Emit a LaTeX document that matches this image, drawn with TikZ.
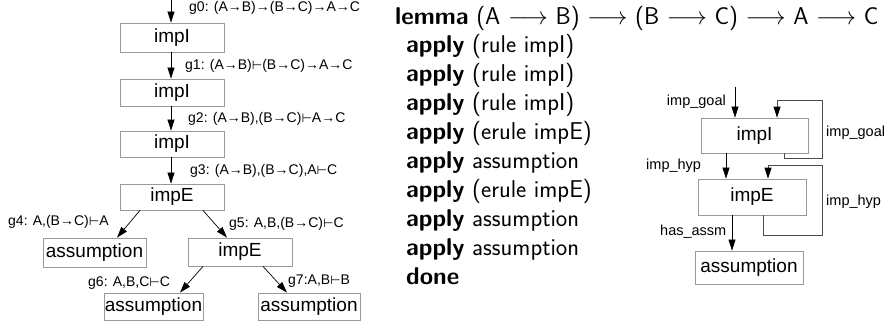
\documentclass[tikz,border=0pt]{standalone}
\usepackage{fontspec}
\setmainfont{Liberation Sans}
\newfontfamily\djv{DejaVu Sans}
\usetikzlibrary{arrows.meta,calc}
\newcommand{\ar}{→}
\newcommand{\ts}{{\djv\fontsize{12}{12}\selectfont ⊢}}
\begin{document}
\begin{tikzpicture}[x=1pt,y=-1pt,
  box/.style={draw=black!40,line width=0.8pt,inner sep=0pt,font=\fontsize{19}{19}\selectfont},
  arr/.style={-{Triangle[length=11pt,width=7pt]},line width=0.7pt,black},
  loopline/.style={-{Triangle[length=11pt,width=7pt,black]},line width=0.9pt,black!70},
  glab/.style={anchor=west,inner sep=0pt,font=\fontsize{14}{14}\selectfont},
  rlab/.style={inner sep=0pt,font=\fontsize{14.5}{14.5}\selectfont},
  isa/.style={anchor=base west,inner sep=0pt,font=\sffamily\fontsize{24.3}{24.3}\selectfont}]
\useasboundingbox (0,0) rectangle (894,324);
% ---------- left tree ----------
\node[box,minimum width=104pt,minimum height=29pt] (b1) at (172,37.5) {impI};
\node[box,minimum width=104pt,minimum height=27pt] (b2) at (172,92.5) {impI};
\node[box,minimum width=104pt,minimum height=26pt] (b3) at (172,144) {impI};
\node[box,minimum width=104pt,minimum height=26pt] (b4) at (172,197) {impE};
\node[box,minimum width=103pt,minimum height=29pt] (a1) at (94.5,252.5) {assumption};
\node[box,minimum width=104pt,minimum height=28pt] (b5) at (240,252) {impE};
\node[box,minimum width=99pt,minimum height=27pt] (a2) at (153.5,306.5) {assumption};
\node[box,minimum width=102pt,minimum height=27pt] (a3) at (309,306.5) {assumption};
\coordinate (top) at (171,0);
\draw[arr] (top) -- (top |- b1.north);
\draw[arr] (b1.south -| top) -- (b2.north -| top);
\draw[arr] (b2.south -| top) -- (b3.north -| top);
\draw[arr] (b3.south -| top) -- (b4.north -| top);
\draw[arr] ($(b4.south)+(-32,0)$) -- ($(a1.north)+(22.5,0)$);
\draw[arr] ($(b4.south)+(31,0)$) -- ($(b5.north)+(-13,0)$);
\draw[arr] ($(b5.south)+(-37,0)$) -- ($(a2.north)+(26.5,0)$);
\draw[arr] ($(b5.south)+(23,0)$) -- ($(a3.north)+(-22,0)$);
\node[glab] (g0) at (189,7.5) {g0: (A\ar B)\ar(B\ar C)\ar A\ar C};
\node[glab] (g1) at (185,66) {g1: (A\ar B)\ts(B\ar C)\ar A\ar C};
\node[glab] (g2) at (188,119) {g2: (A\ar B),(B\ar C)\ts A\ar C};
\node[glab] (g3) at (190,171) {g3: (A\ar B),(B\ar C),A\ts C};
\node[glab] (g4) at (8,222) {g4: A,(B\ar C)\ts A};
\node[glab] (g5) at (229,224) {g5: A,B,(B\ar C)\ts C};
\node[glab] (g6) at (88,283) {g6: A,B,C\ts C};
\node[glab] (g7) at (288,281) {g7:A,B\ts B};
% ---------- Isabelle text ----------
\node[isa] (l0) at (395,24) {\textbf{lemma} (A $\longrightarrow$ B) $\longrightarrow$ (B $\longrightarrow$ C) $\longrightarrow$ A $\longrightarrow$ C};
\node[isa] (l1) at (406,52.5) {\textbf{apply} (rule impI)};
\node[isa] (l2) at (406,81.5) {\textbf{apply} (rule impI)};
\node[isa] (l3) at (406,110.5) {\textbf{apply} (rule impI)};
\node[isa] (l4) at (406,139.5) {\textbf{apply} (erule impE)};
\node[isa] (l5) at (406,168.5) {\textbf{apply} assumption};
\node[isa] (l6) at (406,197.5) {\textbf{apply} (erule impE)};
\node[isa] (l7) at (406,226.5) {\textbf{apply} assumption};
\node[isa] (l8) at (406,255.5) {\textbf{apply} assumption};
\node[isa] (l9) at (406,284.5) {\textbf{done}};
% ---------- right diagram ----------
\node[box,minimum width=107pt,minimum height=35pt] (r1) at (754.5,135.5) {impI};
\node[box,minimum width=108pt,minimum height=36pt] (r2) at (752,197) {impE};
\node[box,minimum width=108pt,minimum height=33pt] (r3) at (749,267.5) {assumption};
\coordinate (rin) at (735,87);
\draw[arr] (rin) -- (rin |- r1.north);
\draw[loopline] ($(r1.south)+(29.5,0)$) |- (822,158) |- (777,100) -- ($(r1.north)+(22.5,0)$);
\draw[arr] ($(r1.south)+(-28.5,0)$) -- ($(r2.north)+(-26,0)$);
\draw[loopline] ($(r2.south)+(11,0)$) |- (822,235) |- (768,165) -- ($(r2.north)+(16,0)$);
\draw[arr] ($(r2.south)+(-20,0)$) -- ($(r3.north)+(-17,0)$);
\node[rlab,anchor=east] (lg1) at (726,102) {imp\_goal};
\node[rlab,anchor=west] (lg2) at (826,133) {imp\_goal};
\node[rlab,anchor=west] (lh1) at (646,166) {imp\_hyp};
\node[rlab,anchor=west] (lh2) at (826,202) {imp\_hyp};
\node[rlab,anchor=west] (la) at (660,232) {has\_assm};
\end{tikzpicture}
\end{document}
